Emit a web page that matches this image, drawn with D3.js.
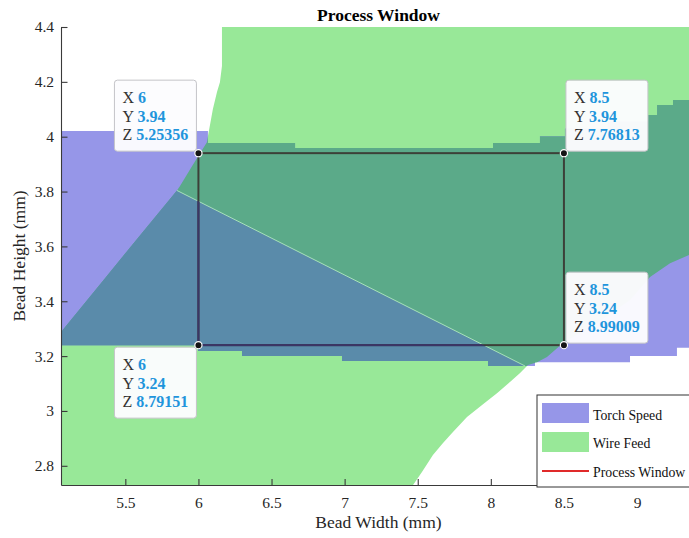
<!DOCTYPE html>
<html><head><meta charset="utf-8">
<script src="https://cdn.jsdelivr.net/npm/d3@7"></script>
<style>body{margin:0;background:#fff}svg{display:block}</style>
</head><body><svg id="c" width="689" height="538"></svg>
<script>
// ---------------- data ----------------
const xTicks = [5.5, 6, 6.5, 7, 7.5, 8, 8.5, 9];
const yTicks = [2.8, 3, 3.2, 3.4, 3.6, 3.8, 4, 4.2, 4.4];
const xDomain = [5.06, 9.5];
const yDomain = [2.73, 4.4];

// Wire Feed feasible region boundaries (x, y)
const wireFeedLeft = [[6.161,4.4],[6.161,4.258],[6.147,4.199],[6.127,4.163],[6.099,4.101],[6.065,4.002],
  [6.058,3.980],[5.956,3.892],[5.873,3.819],[5.853,3.804],[5.538,3.600],[5.354,3.479],[5.073,3.296],[5.06,3.285]];
const wireFeedRight = [[7.468,2.73],[7.529,2.777],[7.604,2.839],[7.673,2.883],[7.741,2.923],[7.837,2.978],
  [7.940,3.022],[8.042,3.065],[8.131,3.106],[8.200,3.138],[8.254,3.168],[8.316,3.178],[8.384,3.197],
  [8.494,3.248],[8.726,3.321],[8.952,3.405],[9.089,3.488],[9.226,3.539],[9.356,3.569],[9.5,3.61]];
// Torch Speed feasible region (step boundaries: value holds until next x)
const torchTop = [[5.06,4.021],[6.065,3.977],[6.661,3.959],[8.015,3.977],[8.336,4.002],[8.507,4.03],
  [8.8,4.055],[9.075,4.079],[9.137,4.116],[9.246,4.134],[9.5,4.134]];
const torchBottom = [[5.06,3.240],[5.997,3.219],[6.298,3.200],[6.982,3.182],[7.981,3.164],[8.302,3.178],
  [8.952,3.200],[9.273,3.230],[9.5,3.230]];
const overlapDivide = [[5.853,3.804],[8.234,3.164]];

const windowX = [6, 8.5];
const windowY = [3.24, 3.94];
const tipX = [6, 8.5, 8.5, 6];
const tipY = [3.94, 3.94, 3.24, 3.24];
const tipZ = [5.25356, 7.76813, 8.99009, 8.79151];
const legendLabels = ["Torch Speed", "Wire Feed", "Process Window"];

// ---------------- styles ----------------
const C = {purple:"#9696e8", green:"#98e898", teal:"#5baa89", steel:"#5a8baa",
  rectA:"#3c4038", rectB:"#3b3566", axis:"#3a3a3a", text:"#262626", blue:"#1f95dc", red:"#e02a2a"};
const serif = "'Liberation Serif','Times New Roman',serif";

const svg = d3.select("#c");
const x = d3.scaleLinear().domain(xDomain).range([61, 61 + (xDomain[1]-xDomain[0])*146.2]);
const y = d3.scaleLinear().domain(yDomain).range([485, 27]);
const line = d3.line().x(d => x(d[0])).y(d => y(d[1]));
const poly = pts => line(pts) + "Z";
function steps(arr){ const o=[]; arr.forEach((p,i)=>{ if(i>0) o.push([p[0], arr[i-1][1]]); o.push(p); }); return o; }

const greenPoly = wireFeedLeft.concat([[xDomain[0], yDomain[0]]], wireFeedRight, [[xDomain[1], yDomain[1]]]);
const purplePoly = steps(torchTop).concat(steps(torchBottom).reverse());
const s = (overlapDivide[1][1]-overlapDivide[0][1])/(overlapDivide[1][0]-overlapDivide[0][0]);
const yAt = xv => overlapDivide[0][1] + s*(xv-overlapDivide[0][0]);
const belowPoly = [[xDomain[0]-1, yAt(xDomain[0]-1)], [xDomain[1]+1, yAt(xDomain[1]+1)], [xDomain[1]+1, yDomain[0]-1], [xDomain[0]-1, yDomain[0]-1]];

const defs = svg.append("defs");
defs.append("clipPath").attr("id","cpPlot").append("rect")
  .attr("x", x(xDomain[0])).attr("y", y(yDomain[1])).attr("width", x(xDomain[1])-x(xDomain[0])).attr("height", y(yDomain[0])-y(yDomain[1]));
defs.append("clipPath").attr("id","cpGreen").append("path").attr("d", poly(greenPoly));
defs.append("clipPath").attr("id","cpPurple").append("path").attr("d", poly(purplePoly));
defs.append("clipPath").attr("id","cpBelow").append("path").attr("d", poly(belowPoly));

const plot = svg.append("g").attr("clip-path","url(#cpPlot)");
plot.append("path").attr("d", poly(greenPoly)).attr("fill", C.green);
plot.append("path").attr("d", poly(purplePoly)).attr("fill", C.purple);
const gG = plot.append("g").attr("clip-path","url(#cpGreen)");
gG.append("path").attr("d", poly(purplePoly)).attr("fill", C.teal);
const gB = gG.append("g").attr("clip-path","url(#cpBelow)");
gB.append("path").attr("d", poly(purplePoly)).attr("fill", C.steel);
plot.append("path").attr("d", line(overlapDivide)).attr("stroke","#b4ecc0").attr("stroke-width",1).attr("fill","none").attr("opacity",0.85);

// process window rectangle
function winRect(g, col){
  g.append("rect").attr("x", x(windowX[0])).attr("y", y(windowY[1]))
    .attr("width", x(windowX[1])-x(windowX[0])).attr("height", y(windowY[0])-y(windowY[1]))
    .attr("fill","none").attr("stroke", col).attr("stroke-width", 2);
}
winRect(plot, C.rectA);
const gS = plot.append("g").attr("clip-path","url(#cpGreen)").append("g").attr("clip-path","url(#cpBelow)").append("g").attr("clip-path","url(#cpPurple)");
winRect(gS, C.rectB);

// axes
const xa = svg.append("g").attr("transform", `translate(0,${y(yDomain[0])})`)
  .call(d3.axisBottom(x).tickValues(xTicks).tickFormat(d => String(d)).tickSizeInner(-6).tickSizeOuter(0).tickPadding(12));
const ya = svg.append("g").attr("transform", `translate(${x(xDomain[0])},0)`)
  .call(d3.axisLeft(y).tickValues(yTicks).tickFormat(d => String(d)).tickSizeInner(-6.5).tickSizeOuter(0).tickPadding(7));
[xa, ya].forEach(a => {
  a.attr("font-family", serif).attr("font-size", 15.5);
  a.select(".domain").attr("stroke", C.axis).attr("stroke-width", 1.1);
  a.selectAll(".tick line").attr("stroke", C.axis).attr("stroke-width", 1.1);
  a.selectAll(".tick text").attr("font-family", serif).attr("font-size", "15.5px").attr("fill", C.text);
});

// data tips
const tipW = 82, tipH = 71;
tipX.forEach((xv, i) => {
  const px = x(xv), py = y(tipY[i]);
  const left = (i === 0 || i === 3) ? px - 2 - tipW : px + 2;
  const top = (i === 3) ? py + 2 : py - 2 - tipH;
  const g = svg.append("g").attr("transform", `translate(${left},${top})`);
  g.append("rect").attr("width", tipW).attr("height", tipH).attr("rx", 3)
    .attr("fill", "#fcfcfe").attr("fill-opacity", 0.97).attr("stroke", "#c4c4c8").attr("stroke-width", 1);
  const rows = [["X", xv], ["Y", tipY[i]], ["Z", tipZ[i]]];
  rows.forEach((r, k) => {
    const t = g.append("text").attr("x", 8).attr("y", 23 + k*18.5).attr("font-family", serif).attr("font-size", "16px");
    t.append("tspan").attr("fill", "#333").text(r[0] + " ");
    t.append("tspan").attr("fill", C.blue).attr("font-weight", "bold").text(String(r[1]));
  });
  svg.append("circle").attr("cx", px).attr("cy", py).attr("r", 3.6)
    .attr("fill", "#141414").attr("stroke", "#fff").attr("stroke-width", 1.2);
});

// legend
const lg = svg.append("g").attr("transform", "translate(537,395)");
lg.append("rect").attr("width", 180).attr("height", 92).attr("fill", "#fff").attr("stroke", "#333").attr("stroke-width", 1);
lg.append("rect").attr("x", 5).attr("y", 8).attr("width", 47).attr("height", 20).attr("fill", C.purple);
lg.append("rect").attr("x", 5).attr("y", 37).attr("width", 47).attr("height", 20).attr("fill", C.green);
lg.append("line").attr("x1", 5).attr("x2", 52).attr("y1", 76).attr("y2", 76).attr("stroke", C.red).attr("stroke-width", 2);
legendLabels.forEach((l, k) => {
  lg.append("text").attr("x", 56).attr("y", 24.5 + k*28.8).attr("font-family", serif).attr("font-size", "13.8px").attr("fill", "#111").text(l);
});

// titles
svg.append("text").attr("x", 378.5).attr("y", 20.5).attr("text-anchor", "middle").attr("font-family", serif)
  .attr("font-size", "17.5px").attr("font-weight", "bold").attr("fill", "#000").text("Process Window");
svg.append("text").attr("x", 378.5).attr("y", 528).attr("text-anchor", "middle").attr("font-family", serif)
  .attr("font-size", "17.5px").attr("fill", C.text).text("Bead Width (mm)");
svg.append("text").attr("transform", "translate(25,256) rotate(-90)").attr("text-anchor", "middle").attr("font-family", serif)
  .attr("font-size", "17.5px").attr("fill", C.text).text("Bead Height (mm)");
</script></body></html>
